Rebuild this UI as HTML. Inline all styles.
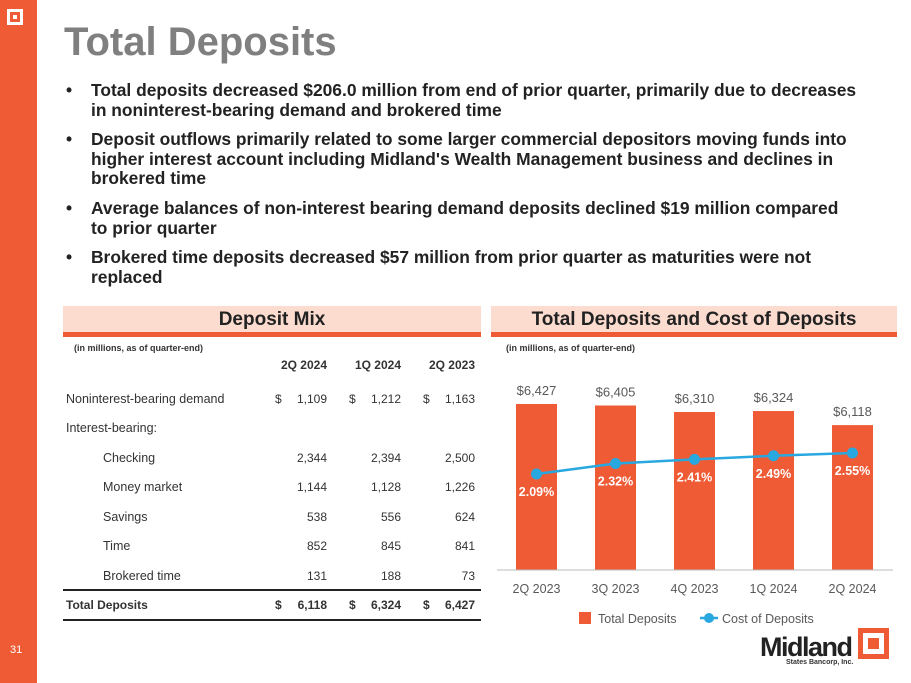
<!DOCTYPE html>
<html><head><meta charset="utf-8"><style>
body{margin:0;width:911px;height:683px;background:#fff;position:relative;overflow:hidden;font-family:"Liberation Sans",sans-serif}
.a{position:absolute}
.side{left:0;top:0;width:37px;height:683px;background:#ee5b35}
.title{left:64px;top:20px;font-size:40px;font-weight:bold;color:#7f7f7f}
.bul{left:66px;font-size:17.4px;font-weight:bold;color:#222;line-height:19.5px;width:840px;white-space:nowrap}
.bul span{position:absolute;left:0}
.bul div{padding-left:25px}
.band{height:26px;background:#fcdccf;border-bottom:5px solid #ee5b35;text-align:center;font-weight:bold;font-size:19px;line-height:28px;color:#222}
.note{font-size:9px;font-weight:bold;color:#333}
.t{font-size:12.5px;color:#333}
.n{font-size:12px;color:#333;text-align:right;width:60px}
.d{font-size:12px;color:#333}
</style></head><body>
<div class="a side"></div>
<div class="a" style="left:7px;top:9px;width:16px;height:16px;border:3px solid #fff;box-sizing:border-box"><div style="margin:3px;width:4px;height:4px;background:#fff"></div></div>
<div class="a" style="left:10px;top:644px;font-size:11px;color:#fff">31</div>
<div class="a title">Total Deposits</div>
<div class="a bul" style="top:81px"><span>•</span><div>Total deposits decreased $206.0 million from end of prior quarter, primarily due to decreases<br>in noninterest-bearing demand and brokered time</div></div>
<div class="a bul" style="top:130px"><span>•</span><div>Deposit outflows primarily related to some larger commercial depositors moving funds into<br>higher interest account including Midland's Wealth Management business and declines in<br>brokered time</div></div>
<div class="a bul" style="top:199px"><span>•</span><div>Average balances of non-interest bearing demand deposits declined $19 million compared<br>to prior quarter</div></div>
<div class="a bul" style="top:248px"><span>•</span><div>Brokered time deposits decreased $57 million from prior quarter as maturities were not<br>replaced</div></div>

<div class="a band" style="left:63px;top:306px;width:418px">Deposit Mix</div>
<div class="a band" style="left:491px;top:306px;width:406px">Total Deposits and Cost of Deposits</div>
<div class="a note" style="left:74px;top:343px">(in millions, as of quarter-end)</div>
<div class="a note" style="left:506px;top:343px">(in millions, as of quarter-end)</div>

<div id="tbl"></div>
<div class="a" style="left:63px;top:589px;width:418px;height:2px;background:#222"></div>
<div class="a" style="left:63px;top:619px;width:418px;height:2px;background:#222"></div>

<svg class="a" style="left:0;top:0" width="911" height="683" id="chart"></svg>

<div class="a" style="left:760px;top:632px;font-size:27px;font-weight:bold;color:#222;letter-spacing:-1.5px">Midland</div>
<div class="a" style="left:786px;top:659px;font-size:7px;font-weight:bold;color:#333">States Bancorp, Inc.</div>
<div class="a" style="left:858px;top:628px;width:31px;height:31px;background:#ee5b35"><div style="margin:5px;width:21px;height:21px;background:#fff"><div style="position:relative;left:5px;top:5px;width:11px;height:11px;background:#ee5b35"></div></div></div>

<script>
const rowLabels=["Noninterest-bearing demand","Interest-bearing:","Checking","Money market","Savings","Time","Brokered time","Total Deposits"];
const colHeads=["2Q 2024","1Q 2024","2Q 2023"];
const col2Q24=["1,109","","2,344","1,144","538","852","131","6,118"];
const col1Q24=["1,212","","2,394","1,128","556","845","188","6,324"];
const col2Q23=["1,163","","2,500","1,226","624","841","73","6,427"];
const tbl=document.getElementById('tbl');
const rowY=[399,428,458,487,517,546,576,605];
const colR=[327,401,475];
function div(cls,txt,l,t,name,extra){const d=document.createElement('div');d.className='a '+cls;d.textContent=txt;d.style.left=l+'px';d.style.top=t+'px';if(extra)Object.assign(d.style,extra);


tbl.appendChild(d);return d;}
colHeads.forEach((h,i)=>div('n',h,colR[i]-60,358,'col-head',{fontWeight:'bold'}));
const cols=[col2Q24,col1Q24,col2Q23];
rowLabels.forEach((r,i)=>{
  const ind=(i>=2&&i<=6)?103:66;
  div('t',r,ind,rowY[i]-7,'row-label',i==7?{fontWeight:'bold',fontSize:'12px'}:null);
  cols.forEach((c,j)=>{ if(!c[i])return;
    const b=i==7?{fontWeight:'bold'}:null;
    div('n',c[i],colR[j]-60,rowY[i]-7,'cell-value',b);
    if(i==0||i==7) div('d','$',colR[j]-52,rowY[i]-7,'dollar-sign',b);
  });
});

const cats=["2Q 2023","3Q 2023","4Q 2023","1Q 2024","2Q 2024"];
const deposits=[6427,6405,6310,6324,6118];
const depLabels=["$6,427","$6,405","$6,310","$6,324","$6,118"];
const cost=[2.09,2.32,2.41,2.49,2.55];
const costLabels=["2.09%","2.32%","2.41%","2.49%","2.55%"];
const svg=document.getElementById('chart');const NS='http://www.w3.org/2000/svg';
function el(t,a,name){const e=document.createElementNS(NS,t);for(const k in a)e.setAttribute(k,a[k]);


svg.appendChild(e);return e;}
const base=570,x0=497,step=79;
const xc=i=>x0+step*(i+0.5);
const yb=v=>base-(v-4000)*0.0684;
const yl=v=>474-(v-2.09)*45.6;
deposits.forEach((v,i)=>{
  el('rect',{x:xc(i)-20.5,y:yb(v),width:41,height:base-yb(v),fill:'#ee5b35'},'bar-'+i);
  const t=el('text',{x:xc(i),y:yb(v)-9,'text-anchor':'middle','font-size':13,fill:'#595959'},'bar-value');t.textContent=depLabels[i];
  const c=el('text',{x:xc(i),y:588+5,'text-anchor':'middle','font-size':12.5,fill:'#595959'},'x-tick');c.textContent=cats[i];
});
el('line',{x1:497,x2:893,y1:base,y2:base,stroke:'#bbb','stroke-width':1},'x-axis');
el('polyline',{points:cost.map((v,i)=>xc(i)+','+yl(v)).join(' '),fill:'none',stroke:'#29a8e0','stroke-width':2.5},'cost-line');
cost.forEach((v,i)=>{
  el('circle',{cx:xc(i),cy:yl(v),r:5.5,fill:'#29a8e0'},'cost-point');
  const t=el('text',{x:xc(i),y:yl(v)+22,'text-anchor':'middle','font-size':12.5,'font-weight':'bold',fill:'#fff'},'cost-label');t.textContent=costLabels[i];
});
el('rect',{x:579,y:612,width:12,height:12,fill:'#ee5b35'},'legend-deposits-swatch');
const l1=el('text',{x:598,y:623,'font-size':12.5,fill:'#595959'},'legend-deposits');l1.textContent='Total Deposits';
el('line',{x1:700,x2:718,y1:618,y2:618,stroke:'#29a8e0','stroke-width':2.5},'legend-cost-line');
el('circle',{cx:709,cy:618,r:5,fill:'#29a8e0'},'legend-cost-point');
const l2=el('text',{x:722,y:623,'font-size':12.5,fill:'#595959'},'legend-cost');l2.textContent='Cost of Deposits';
</script>
</body></html>
